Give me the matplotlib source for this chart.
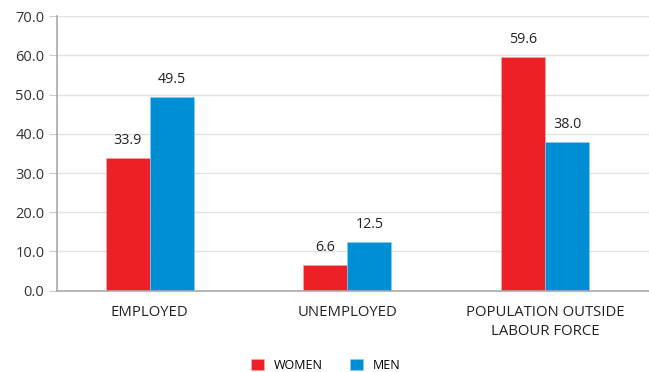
import numpy as np
import matplotlib
matplotlib.use("Agg")
import matplotlib.pyplot as plt

plt.rcParams["font.family"] = ["Open Sans", "DejaVu Sans"]

categories = ["EMPLOYED", "UNEMPLOYED", "POPULATION OUTSIDE\nLABOUR FORCE"]
women = [33.9, 6.6, 59.6]
men = [49.5, 12.5, 38.0]

red = "#ED2027"
blue = "#008FD5"

fig = plt.figure(figsize=(6.49, 3.72), dpi=100)
ax = fig.add_axes([0.0878, 0.2186, 0.9122, 0.7376])

x = np.arange(len(categories))
w = 0.2226
b1 = ax.bar(x - w / 2, women, w, color=red, label="WOMEN", edgecolor="#F6B0B0", linewidth=0.4)
b2 = ax.bar(x + w / 2, men, w, color=blue, label="MEN", edgecolor="#8CCBEA", linewidth=0.4)

for bars in (b1, b2):
    for b in bars:
        ax.text(b.get_x() + b.get_width() / 2, b.get_height() + 2.5, f"{b.get_height():.1f}",
                ha="center", va="bottom", fontsize=10.3, color="#222222")

ax.set_xlim(-0.468, 2.526)
ax.set_ylim(0, 70)
ax.set_yticks(np.arange(0, 71, 10))
ax.set_yticklabels([f"{v:.1f}" for v in np.arange(0, 71, 10)])
ax.set_xticks(x)
ax.set_xticklabels(categories, linespacing=1.3)

ax.grid(axis="y", color="#E2E2E2", linewidth=1)
ax.set_axisbelow(True)
for s in ("top", "right"):
    ax.spines[s].set_visible(False)
for s in ("left", "bottom"):
    ax.spines[s].set_color("#AAAAAA")
    ax.spines[s].set_linewidth(1.2)
ax.tick_params(axis="y", length=6, color="#CCCCCC", labelsize=10.5, labelcolor="#333333", pad=3)
ax.tick_params(axis="x", length=0, labelsize=10.7, labelcolor="#222222", pad=10.5)

fig.legend(handles=[b1, b2], loc="lower center", bbox_to_anchor=(0.502, -0.03), ncol=2,
           frameon=False, fontsize=9, handlelength=1.0, handleheight=1.0,
           columnspacing=2.2, handletextpad=0.8)

fig.savefig("out.png", dpi=100)
